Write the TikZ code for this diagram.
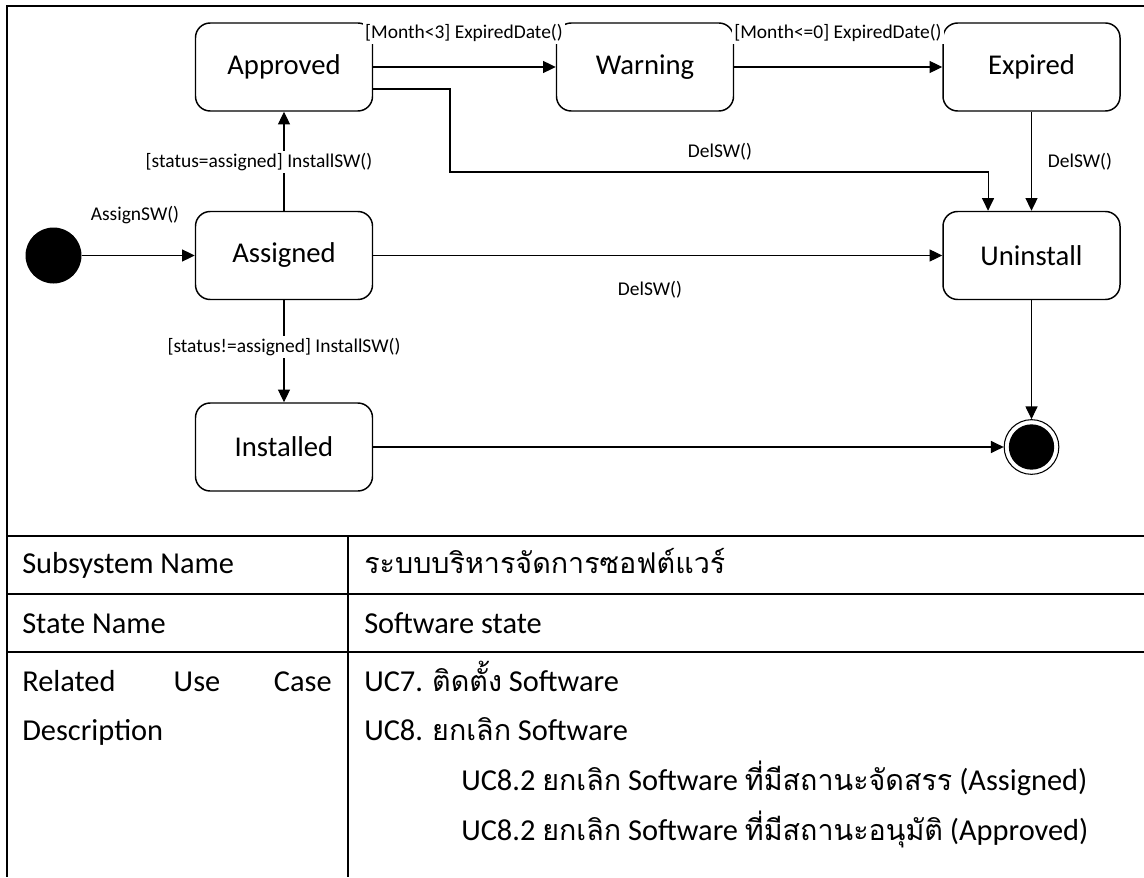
\documentclass[tikz,border=0pt]{standalone}
\usepackage{fontspec}
\setmainfont{Carlito}
\newfontfamily\thaifont[Script=Thai]{Loma}
\newcommand{\thtxt}[1]{{\thaifont\fontsize{21.5}{24}\selectfont #1}}
\usetikzlibrary{arrows.meta}
\begin{document}
\begin{tikzpicture}[x=0.75pt,y=-0.75pt,
  state/.style={draw, line width=1.1pt, rounded corners=11pt, minimum width=132.75pt, minimum height=66pt, font=\fontsize{21.5}{24}\selectfont, inner sep=0pt},
  tr/.style={line width=0.8pt, -{Triangle[length=9.5pt,width=9pt]}},
  lbl/.style={font=\fontsize{14.6}{16}\selectfont, inner sep=1pt},
  wl/.style={lbl, fill=white, inner sep=1.5pt},
  tab/.style={font=\fontsize{22.8}{26}\selectfont, anchor=base west, inner sep=0pt},
  frame/.style={line width=1.5pt}]
\useasboundingbox (0,0) rectangle (1144,877);
% frame and table
\draw[frame] (1144,6) -- (7,6) -- (7,877);
\draw[frame] (7,536) -- (1144,536);
\draw[frame] (7,594) -- (1144,594);
\draw[frame] (7,652) -- (1144,652);
\draw[frame] (348,536) -- (348,877);
% states
\node[state] (Approved) at (284,67) {Approved};
\node[state] (Warning) at (645,67) {Warning};
\node[state] (Expired) at (1031.5,67) {Expired};
\node[state] (Assigned) at (284,255.5) {Assigned};
\node[state] (Installed) at (284,447) {Installed};
\node[state] (Uninstall) at (1031.5,255.5) {Uninstall};
\node[circle, fill=black, minimum size=42pt, inner sep=0pt] (init) at (53.5,255.5) {};
\node[circle, draw, line width=0.8pt, minimum size=41pt, inner sep=0pt] (final) at (1031.5,447) {};
\node[circle, fill=black, minimum size=34pt, inner sep=0pt] (finalin) at (final.center) {};
% transitions
\draw[tr] (init) -- (Assigned);
\draw[tr] (Assigned) -- (Approved);
\draw[tr] (Assigned) -- (Installed);
\draw[tr] (Assigned) -- (Uninstall);
\draw[tr] (Installed) -- (final);
\draw[tr] (Uninstall) -- (final);
\draw[tr] (Approved) -- (Warning);
\draw[tr] (Warning) -- (Expired);
\draw[tr] (Expired) -- (Uninstall);
\coordinate (k1) at (450,172);
\draw[tr] ([yshift=-16.5pt]Approved.east) -| (k1) -| ([xshift=-32.6pt]Uninstall.north);
% labels
\node[lbl] (l1) at (135,215) {AssignSW()};
\node[wl] (l2) at (259,162) {[status=assigned] InstallSW()};
\node[wl] (l3) at (284,347) {[status!=assigned] InstallSW()};
\node[lbl] (l4) at (650,290) {DelSW()};
\node[lbl] (l5) at (720,152) {DelSW()};
\node[lbl] (l6) at (1080,162) {DelSW()};
\node[wl] (l7) at (464,33) {[Month<3] ExpiredDate()};
\node[wl] (l8) at (838,33) {[Month<=0] ExpiredDate()};
% table text
\node[tab] (t1) at (22,573) {Subsystem Name};
\node[tab] (t2) at (22,633) {State Name};
\node[tab] (t3a) at (22,691) {Related};
\node[tab, anchor=base] (t3b) at (197,691) {Use};
\node[tab, anchor=base east] (t3c) at (332,691) {Case};
\node[tab] (t4) at (22,740) {Description};
\node[tab] (u1) at (364,573) {\thtxt{ระบบบริหารจัดการซอฟต์แวร์}};
\node[tab] (u2) at (364,633) {Software state};
\node[tab] (u3) at (364,691) {UC7. \thtxt{ติดตั้ง} Software};
\node[tab] (u4) at (364,740) {UC8. \thtxt{ยกเลิก} Software};
\node[tab] (u5) at (461,790) {UC8.2 \thtxt{ยกเลิก} Software \thtxt{ที่มีสถานะจัดสรร} (Assigned)};
\node[tab] (u6) at (461,840) {UC8.2 \thtxt{ยกเลิก} Software \thtxt{ที่มีสถานะอนุมัติ} (Approved)};
\end{tikzpicture}
\end{document}
